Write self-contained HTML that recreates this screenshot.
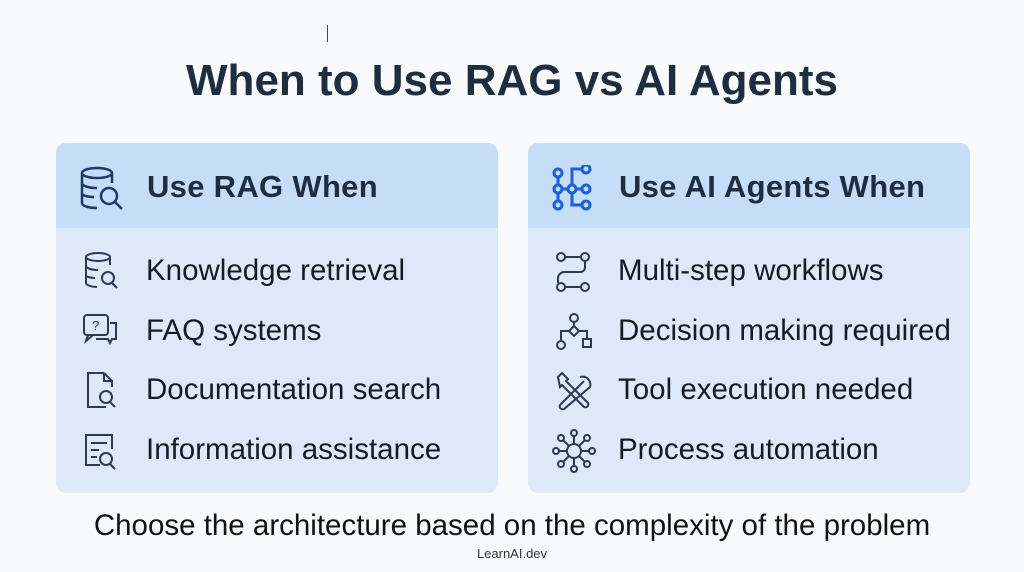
<!DOCTYPE html>
<html><head><meta charset="utf-8"><style>
body{margin:0;width:1024px;height:572px;background:#f9fafb;font-family:"Liberation Sans",sans-serif;position:relative;overflow:hidden}
.t{position:absolute;white-space:nowrap}
.card{position:absolute;top:143px;width:442px;height:350px;border-radius:10px;background:#dde9f9;overflow:hidden}
.hd{position:absolute;left:0;top:0;width:100%;height:85px;background:#c6ddf8}
.ht{position:absolute;left:91px;top:26px;font-size:31px;font-weight:bold;color:#1e2d40;letter-spacing:0.3px}
.it{position:absolute;left:90px;font-size:29.5px;color:#151b22}
svg{position:absolute}
</style></head><body>
<div class="t" style="left:327px;top:25px;width:1px;height:17px;background:#445"></div>
<div class="t" style="left:0;width:1024px;text-align:center;top:56px;font-size:44px;font-weight:bold;color:#1e2d40">When to Use RAG vs AI Agents</div>

<div class="card" style="left:56px">
<div class="hd"></div>
<svg style="left:22px;top:22px" width="50" height="50" viewBox="0 0 50 50" fill="none" stroke="#1e3a66" stroke-width="2.5"><ellipse cx="19" cy="8" rx="15" ry="5"/><path d="M4 8v30c0 3 7 5 15 5M34 8v10M4 18c0 3 7 5 15 5M4 28c0 3 7 4 12 4"/><circle cx="31" cy="31" r="8"/><path d="M37 37l7 7"/></svg>
<div class="ht">Use RAG When</div>
<svg style="left:26px;top:108px" width="44" height="44" viewBox="0 0 44 44" fill="none" stroke="#2a3a55" stroke-width="2"><ellipse cx="16" cy="6" rx="12" ry="4"/><path d="M4 6v26c0 2 5 4 11 4M28 6v8M4 15c0 2 5 4 12 4M4 24c0 2 5 3 9 3"/><circle cx="26" cy="27" r="6"/><path d="M30 32l5 5"/></svg>
<div class="it" style="top:111px">Knowledge retrieval</div>
<svg style="left:26px;top:170px" width="44" height="40" viewBox="0 0 44 40" fill="none" stroke="#2a3a55" stroke-width="2"><rect x="2" y="2" width="24" height="20" rx="3"/><path d="M6 22l-2 6 7-6M28 10h6v16h-4l-2 4-2-4H14"/><text x="10" y="17" font-size="13" fill="#2a3a55" stroke="none" font-family="Liberation Sans">?</text></svg>
<div class="it" style="top:171px">FAQ systems</div>
<svg style="left:28px;top:228px" width="40" height="44" viewBox="0 0 40 44" fill="none" stroke="#2a3a55" stroke-width="2"><path d="M20 2H4v34h18M20 2l8 8M20 2v8h8v6"/><circle cx="22" cy="26" r="6"/><path d="M26 31l5 5"/></svg>
<div class="it" style="top:230px">Documentation search</div>
<svg style="left:26px;top:288px" width="44" height="44" viewBox="0 0 44 44" fill="none" stroke="#2a3a55" stroke-width="2"><path d="M18 34H4V4h26v14M9 12h16M9 19h8M9 26h6"/><circle cx="24" cy="28" r="6"/><path d="M28 33l5 5"/></svg>
<div class="it" style="top:290px">Information assistance</div>
</div>

<div class="card" style="left:528px">
<div class="hd"></div>
<svg style="left:22px;top:22px" width="50" height="50" viewBox="0 0 50 50" fill="none" stroke="#1c5fd6" stroke-width="3"><circle cx="8" cy="8" r="4"/><circle cx="8" cy="24" r="4"/><circle cx="8" cy="40" r="4"/><circle cx="36" cy="4" r="4"/><circle cx="36" cy="24" r="4"/><circle cx="36" cy="40" r="4"/><circle cx="22" cy="24" r="4"/><path d="M8 12v8M8 28v8M12 24h6M26 24h6M22 20v-16h10M22 28v12h10"/></svg>
<div class="ht" style="left:91px">Use AI Agents When</div>
<svg style="left:26px;top:108px" width="44" height="44" viewBox="0 0 44 44" fill="none" stroke="#2a3a55" stroke-width="2"><circle cx="7" cy="6" r="4"/><circle cx="31" cy="6" r="4"/><circle cx="7" cy="36" r="4"/><circle cx="31" cy="36" r="4"/><path d="M11 6h16M31 10v6c0 3-2 5-5 5H10c-3 0-6 3-6 6v5M11 36h16"/></svg>
<div class="it" style="top:111px">Multi-step workflows</div>
<svg style="left:26px;top:170px" width="44" height="40" viewBox="0 0 44 40" fill="none" stroke="#2a3a55" stroke-width="2"><circle cx="20" cy="5" r="4"/><path d="M20 9v4M20 13l5 5-5 5-5-5zM15 18H7v10M25 18h8v8"/><circle cx="7" cy="32" r="4"/><rect x="29" y="26" width="8" height="8"/></svg>
<div class="it" style="top:171px">Decision making required</div>
<svg style="left:26px;top:228px" width="44" height="44" viewBox="0 0 44 44" fill="none" stroke="#2a3a55" stroke-width="2"><path d="M4 6l4-4 6 6-2 2 22 22a3 3 0 0 1-4 4L8 14l-2 2zM26 6a8 8 0 0 1 10 10L10 38a3 3 0 0 1-4-4L30 10"/></svg>
<div class="it" style="top:230px">Tool execution needed</div>
<svg style="left:24px;top:286px" width="46" height="46" viewBox="0 0 46 46" fill="none" stroke="#2a3a55" stroke-width="2"><circle cx="22" cy="22" r="7"/><path d="M22 15V7M22 29v8M15 22H7M29 22h8M17 17l-6-6M27 17l6-6M17 27l-6 6M27 27l6 6"/><circle cx="22" cy="4" r="3"/><circle cx="22" cy="40" r="3"/><circle cx="4" cy="22" r="3"/><circle cx="40" cy="22" r="3"/><circle cx="9" cy="9" r="3"/><circle cx="35" cy="9" r="3"/><circle cx="9" cy="35" r="3"/><circle cx="35" cy="35" r="3"/></svg>
<div class="it" style="top:290px">Process automation</div>
</div>

<div class="t" style="left:0;width:1024px;text-align:center;top:509px;font-size:29.5px;color:#111">Choose the architecture based on the complexity of the problem</div>
<div class="t" style="left:0;width:1024px;text-align:center;top:546px;font-size:13px;color:#333">LearnAI.dev</div>
</body></html>
